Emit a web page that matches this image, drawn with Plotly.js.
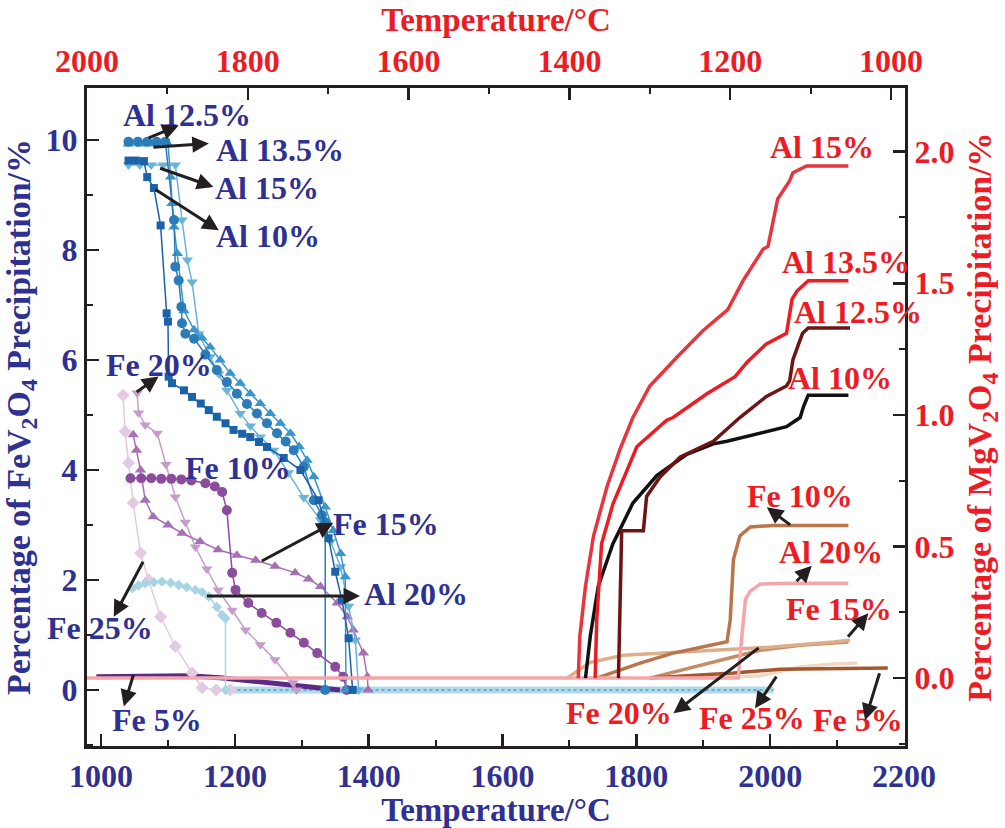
<!DOCTYPE html>
<html>
<head>
<meta charset="utf-8">
<script src="https://cdn.plot.ly/plotly-3.0.1.min.js"></script>
<style>html,body{margin:0;padding:0;background:#fff;}#chart{width:1005px;height:828px;}</style>
</head>
<body>
<div id="chart"></div>
<script>
// ---------- Tick values / labels ----------
const bottomTickVals = [1000, 1200, 1400, 1600, 1800, 2000, 2200];
const bottomTickText = ['1000', '1200', '1400', '1600', '1800', '2000', '2200'];
const topTickVals = [2000, 1800, 1600, 1400, 1200, 1000];
const topTickText = ['2000', '1800', '1600', '1400', '1200', '1000'];
const leftTickVals = [0, 2, 4, 6, 8, 10];
const leftTickText = ['0', '2', '4', '6', '8', '10'];
const rightTickVals = [0, 0.5, 1.0, 1.5, 2.0];
const rightTickText = ['0.0', '0.5', '1.0', '1.5', '2.0'];

// ---------- FeV2O4 precipitation (bottom temperature axis, left axis) ----------
const feAl10T = [1041, 1052, 1064, 1069, 1079, 1089, 1098, 1100, 1101, 1106, 1124, 1136, 1149, 1161, 1173, 1186, 1198, 1211, 1223, 1236, 1248, 1273, 1298, 1325, 1340, 1350, 1360, 1370, 1376];
const feAl10V = [9.63, 9.63, 9.62, 9.33, 9.13, 8.45, 6.85, 6.7, 5.7, 5.58, 5.45, 5.33, 5.21, 5.09, 4.97, 4.85, 4.73, 4.66, 4.6, 4.51, 4.42, 4.22, 4.0, 3.45, 2.76, 2.15, 1.64, 0.94, 0];
const feAl125T = [1041, 1055, 1069, 1083, 1096, 1109, 1111, 1116, 1120, 1121, 1126, 1139, 1156, 1173, 1188, 1203, 1218, 1233, 1248, 1263, 1276, 1288, 1303, 1318, 1330, 1335, 1335];
const feAl125V = [9.97, 9.97, 9.97, 9.97, 9.97, 8.55, 7.7, 7.45, 6.97, 6.67, 6.48, 6.39, 6.1, 5.82, 5.6, 5.39, 5.2, 5.03, 4.85, 4.67, 4.52, 4.36, 4.06, 3.45, 3.18, 3.05, 0];
const feAl135T = [1041, 1060, 1080, 1100, 1104, 1106, 1109, 1114, 1124, 1139, 1151, 1163, 1178, 1193, 1208, 1223, 1238, 1253, 1268, 1283, 1296, 1308, 1318, 1335, 1347, 1358, 1365, 1366];
const feAl135V = [9.93, 9.93, 9.93, 9.93, 9.33, 8.85, 8.42, 7.94, 6.9, 6.55, 6.4, 6.24, 6.0, 5.76, 5.58, 5.39, 5.21, 5.03, 4.85, 4.67, 4.43, 4.18, 3.88, 3.33, 2.9, 2.48, 2.06, 0];
const feAl15T = [1041, 1058, 1075, 1093, 1111, 1121, 1129, 1136, 1146, 1163, 1176, 1188, 1208, 1223, 1238, 1258, 1280, 1303, 1328, 1343, 1358, 1370, 1380, 1385];
const feAl15V = [9.55, 9.55, 9.55, 9.55, 9.55, 8.55, 7.82, 7.42, 6.48, 6.06, 5.75, 5.45, 5.03, 4.8, 4.6, 4.36, 3.95, 3.5, 3.09, 2.7, 2.24, 1.52, 0.91, 0];
const feAl20T = [1047, 1056, 1066, 1079, 1091, 1104, 1116, 1128, 1141, 1151, 1161, 1173, 1181, 1186, 1186];
const feAl20V = [1.85, 1.9, 1.94, 1.96, 1.97, 1.95, 1.91, 1.87, 1.82, 1.78, 1.7, 1.51, 1.36, 1.3, 0];
const feZeroT = [1186, 2005];
const feZeroV = [0, 0];
const feFe5T = [993, 1108, 1130, 1178, 1223, 1253, 1298, 1357];
const feFe5V = [0.24, 0.27, 0.26, 0.22, 0.16, 0.13, 0.07, 0];
const feFe10T = [1044, 1060, 1075, 1090, 1105, 1120, 1135, 1156, 1170, 1181, 1188, 1196, 1201, 1220, 1240, 1262, 1283, 1303, 1323, 1350, 1362, 1367];
const feFe10V = [3.85, 3.85, 3.85, 3.84, 3.84, 3.83, 3.81, 3.76, 3.7, 3.6, 3.27, 2.13, 1.82, 1.58, 1.4, 1.22, 1.04, 0.86, 0.67, 0.42, 0.24, 0];
const feFe15T = [1048, 1053, 1059, 1066, 1078, 1100, 1121, 1148, 1175, 1203, 1231, 1260, 1290, 1310, 1328, 1353, 1368, 1377, 1392, 1398, 1399];
const feFe15V = [4.64, 4.36, 4.0, 3.45, 3.15, 3.0, 2.85, 2.7, 2.55, 2.45, 2.36, 2.25, 2.13, 2.02, 1.88, 1.58, 1.33, 1.09, 0.67, 0.24, 0];
const feFe20T = [1054, 1056, 1066, 1084, 1097, 1111, 1126, 1141, 1158, 1175, 1196, 1216, 1238, 1260, 1287, 1292];
const feFe20V = [5.4, 5.04, 4.82, 4.67, 4.1, 3.51, 3.05, 2.6, 2.2, 1.82, 1.45, 1.09, 0.82, 0.55, 0.13, 0];
const feFe25T = [1033, 1036, 1041, 1048, 1059, 1071, 1089, 1111, 1136, 1151, 1172, 1193];
const feFe25V = [5.36, 4.7, 4.13, 3.4, 2.49, 2.0, 1.33, 0.79, 0.31, 0.04, 0, 0];

// ---------- MgV2O4 precipitation (top temperature axis, right axis) ----------
const mgAl10T = [1380, 1374, 1364, 1346, 1321, 1291, 1254, 1221, 1204, 1130, 1113, 1109, 1103, 1053];
const mgAl10V = [0, 0.16, 0.35, 0.51, 0.665, 0.77, 0.85, 0.89, 0.90, 0.955, 0.99, 1.03, 1.075, 1.075];
const mgAl125T = [1339, 1335, 1308, 1304, 1287, 1262, 1221, 1188, 1155, 1130, 1126, 1122, 1116, 1110, 1103, 1051];
const mgAl125V = [0, 0.56, 0.56, 0.69, 0.765, 0.84, 0.90, 0.99, 1.07, 1.11, 1.13, 1.21, 1.26, 1.31, 1.33, 1.33];
const mgAl135T = [1368, 1366, 1360, 1346, 1316, 1279, 1271, 1229, 1194, 1179, 1155, 1136, 1130, 1123, 1117, 1103, 1053];
const mgAl135V = [0, 0.22, 0.51, 0.66, 0.88, 0.98, 0.99, 1.08, 1.145, 1.20, 1.27, 1.30, 1.31, 1.44, 1.47, 1.51, 1.51];
const mgAl15T = [1389, 1387, 1380, 1370, 1353, 1337, 1321, 1300, 1266, 1234, 1203, 1184, 1159, 1153, 1141, 1126, 1122, 1105, 1053];
const mgAl15V = [0, 0.16, 0.35, 0.54, 0.73, 0.87, 0.99, 1.11, 1.22, 1.32, 1.40, 1.51, 1.63, 1.64, 1.82, 1.89, 1.92, 1.946, 1.946];
const mgAl20T = [2000, 1190, 1186, 1181, 1175, 1163, 1126, 1053];
const mgAl20V = [0, 0, 0.144, 0.30, 0.33, 0.357, 0.36, 0.36];
const mgFe5T = [1300, 1196, 1138, 1004];
const mgFe5V = [0, 0.019, 0.034, 0.038];
const mgFe10T = [1366, 1312, 1271, 1221, 1204, 1200, 1196, 1188, 1175, 1147, 1053];
const mgFe10V = [0, 0.057, 0.095, 0.125, 0.138, 0.22, 0.45, 0.54, 0.574, 0.58, 0.58];
const mgFe15T = [1403, 1374, 1333, 1229, 1147, 1072, 1051];
const mgFe15V = [0, 0.06, 0.087, 0.106, 0.118, 0.137, 0.144];
const mgFe20T = [1300, 1250, 1212, 1163, 1113, 1053];
const mgFe20V = [0, 0.038, 0.068, 0.106, 0.125, 0.137];
const mgFe25T = [1250, 1163, 1142, 1113, 1076, 1042];
const mgFe25V = [0, 0.008, 0.023, 0.042, 0.053, 0.057];

// ---------- styles ----------
const BLUE_TXT = '#2e3192';
const RED_TXT = '#ed1c24';
const INK = '#231f20';
const FONT = 'Liberation Serif, Times New Roman, serif';

function feTrace(x, y, color, symbol, size, width) {
  return {x: x, y: y, xaxis: 'x', yaxis: 'y', type: 'scatter',
    mode: symbol ? 'lines+markers' : 'lines',
    line: {color: color, width: width},
    marker: {symbol: symbol || 'circle', size: size, color: color},
    hoverinfo: 'skip'};
}
function mgTrace(x, y, color, width) {
  return {x: x, y: y, xaxis: 'x2', yaxis: 'y2', type: 'scatter', mode: 'lines',
    line: {color: color, width: width || 3.5, shape: 'linear'}, hoverinfo: 'skip'};
}

const traces = [
  feTrace(feZeroT, feZeroV, '#b3dae7', null, 0, 7),
  {x: feZeroT, y: feZeroV, xaxis: 'x', yaxis: 'y', type: 'scatter', mode: 'lines',
   line: {color: '#6aa8d6', width: 2, dash: 'dot'}, hoverinfo: 'skip'},
  feTrace(feFe5T, feFe5V, '#5c2a84', null, 0, 5),
  feTrace(feFe25T, feFe25V, '#e2cbe2', 'diamond', 10, 1.5),
  feTrace(feFe20T, feFe20V, '#c69dca', 'triangle-down', 10, 1.5),
  feTrace(feFe15T, feFe15V, '#a670b3', 'triangle-up', 10, 1.5),
  feTrace(feFe10T, feFe10V, '#8b4c9e', 'circle', 10, 1.5),
  feTrace(feAl20T, feAl20V, '#a9d5e3', 'diamond', 8, 1.5),
  feTrace(feAl15T, feAl15V, '#6ab4d8', 'triangle-down', 10, 1.5),
  feTrace(feAl135T, feAl135V, '#3a96c9', 'triangle-up', 10, 1.5),
  feTrace(feAl125T, feAl125V, '#2a7db8', 'circle', 10, 1.5),
  feTrace(feAl10T, feAl10V, '#1b62a8', 'square', 8, 1.5),
  mgTrace(mgFe25T, mgFe25V, '#f0d6c4'),
  mgTrace(mgFe20T, mgFe20V, '#c68c64'),
  mgTrace(mgFe15T, mgFe15V, '#dcae8c'),
  mgTrace(mgFe5T, mgFe5V, '#a5562e'),
  mgTrace(mgFe10T, mgFe10V, '#b8764a'),
  mgTrace(mgAl20T, mgAl20V, '#f4a6ac'),
  mgTrace(mgAl10T, mgAl10V, '#111111'),
  mgTrace(mgAl125T, mgAl125V, '#6e1414'),
  mgTrace(mgAl135T, mgAl135V, '#ec1c24'),
  mgTrace(mgAl15T, mgAl15V, '#e8343f')
];

// ---------- labels ----------
function label(text, x, y, color, xr, yr) {
  return {text: text, x: x, y: y, xref: xr, yref: yr, showarrow: false,
    font: {family: FONT, size: 32, color: color, weight: 'bold'}};
}
function arrow(hx, hy, tx, ty, xr, yr) {
  return {text: '', x: hx, y: hy, ax: tx, ay: ty, xref: xr, yref: yr, axref: xr, ayref: yr,
    showarrow: true, arrowhead: 2, arrowsize: 1.1, arrowwidth: 3, arrowcolor: INK};
}
const annotations = [
  label('Al 12.5%', 1128, 10.45, BLUE_TXT, 'x', 'y'),
  arrow(1116, 10.27, 1069, 10.03, 'x', 'y'),
  label('Al 13.5%', 1268, 9.82, BLUE_TXT, 'x', 'y'),
  arrow(1161, 9.94, 1076, 9.87, 'x', 'y'),
  label('Al 15%', 1248, 9.13, BLUE_TXT, 'x', 'y'),
  arrow(1168, 9.15, 1086, 9.5, 'x', 'y'),
  label('Al 10%', 1250, 8.25, BLUE_TXT, 'x', 'y'),
  arrow(1176, 8.36, 1079, 9.12, 'x', 'y'),
  label('Fe 20%', 1086, 5.91, BLUE_TXT, 'x', 'y'),
  arrow(1086, 5.70, 1051, 5.4, 'x', 'y'),
  label('Fe 10%', 1204, 4.04, BLUE_TXT, 'x', 'y'),
  label('Fe 15%', 1426, 3.02, BLUE_TXT, 'x', 'y'),
  arrow(1347, 3.04, 1238, 2.33, 'x', 'y'),
  label('Al 20%', 1471, 1.75, BLUE_TXT, 'x', 'y'),
  arrow(1387, 1.71, 1156, 1.71, 'x', 'y'),
  label('Fe 25%', 998, 1.13, BLUE_TXT, 'x', 'y'),
  arrow(1019, 1.33, 1064, 2.36, 'x', 'y'),
  label('Fe 5%', 1083, -0.545, BLUE_TXT, 'x', 'y'),
  arrow(1034, -0.30, 1049, 0.30, 'x', 'y'),

  label('Al 15%', 1086, 2.018, RED_TXT, 'x2', 'y2'),
  label('Al 13.5%', 1056, 1.581, RED_TXT, 'x2', 'y2'),
  label('Al 12.5%', 1041, 1.391, RED_TXT, 'x2', 'y2'),
  label('Al 10%', 1063, 1.14, RED_TXT, 'x2', 'y2'),
  label('Fe 10%', 1113, 0.692, RED_TXT, 'x2', 'y2'),
  arrow(1154.5, 0.649, 1123.5, 0.578, 'x2', 'y2'),
  label('Al 20%', 1074.5, 0.479, RED_TXT, 'x2', 'y2'),
  arrow(1098.6, 0.427, 1119.3, 0.362, 'x2', 'y2'),
  label('Fe 15%', 1064.6, 0.262, RED_TXT, 'x2', 'y2'),
  arrow(1028.2, 0.246, 1055.1, 0.151, 'x2', 'y2'),
  label('Fe 20%', 1338, -0.133, RED_TXT, 'x2', 'y2'),
  arrow(1270.6, -0.134, 1162.8, 0.119, 'x2', 'y2'),
  label('Fe 25%', 1172.8, -0.152, RED_TXT, 'x2', 'y2'),
  arrow(1169.1, -0.115, 1141.3, 0.011, 'x2', 'y2'),
  label('Fe 5%', 1041, -0.16, RED_TXT, 'x2', 'y2'),
  arrow(1032.3, -0.16, 1013.7, 0.024, 'x2', 'y2')
];

function axisBase(color) {
  return {showgrid: false, zeroline: false, showline: true, linewidth: 3, linecolor: INK,
    ticks: 'inside', ticklen: 12, tickwidth: 2.5, tickcolor: INK, tickmode: 'array',
    tickfont: {family: FONT, size: 32, color: color, weight: 'bold'}};
}

const layout = {
  width: 1005, height: 828,
  margin: {l: 87, r: 100, t: 88, b: 82, pad: 0},
  paper_bgcolor: '#ffffff', plot_bgcolor: '#ffffff',
  showlegend: false,
  font: {family: FONT},
  xaxis: Object.assign(axisBase(BLUE_TXT), {
    range: [979, 2201.5], tickvals: bottomTickVals, ticktext: bottomTickText,
    minor: {ticks: 'inside', ticklen: 6, tickwidth: 2, tickcolor: INK, tick0: 1000, dtick: 100},
    title: {text: 'Temperature/°C', font: {family: FONT, size: 33, color: BLUE_TXT, weight: 'bold'}, standoff: 2}
  }),
  xaxis2: Object.assign(axisBase(RED_TXT), {
    overlaying: 'x', side: 'top', anchor: 'y',
    range: [2000, 982.6], tickvals: topTickVals, ticktext: topTickText,
    minor: {ticks: 'inside', ticklen: 6, tickwidth: 2, tickcolor: INK, tick0: 1000, dtick: 100},
    title: {text: 'Temperature/°C', font: {family: FONT, size: 33, color: RED_TXT, weight: 'bold'}, standoff: 2}
  }),
  yaxis: Object.assign(axisBase(BLUE_TXT), {
    range: [-1.02, 10.95], tickvals: leftTickVals, ticktext: leftTickText,
    minor: {ticks: 'inside', ticklen: 6, tickwidth: 2, tickcolor: INK, tick0: 0, dtick: 1},
    title: {text: 'Percentage of FeV<sub>2</sub>O<sub>4</sub> Precipitation/%', font: {family: FONT, size: 34, color: BLUE_TXT, weight: 'bold'}, standoff: 6}
  }),
  yaxis2: Object.assign(axisBase(RED_TXT), {
    overlaying: 'y', side: 'right', anchor: 'x',
    range: [-0.258, 2.242], tickvals: rightTickVals, ticktext: rightTickText,
    minor: {ticks: 'inside', ticklen: 6, tickwidth: 2, tickcolor: INK, tick0: 0, dtick: 0.25},
    title: {text: 'Percentage of MgV<sub>2</sub>O<sub>4</sub> Precipitation/%', font: {family: FONT, size: 34, color: RED_TXT, weight: 'bold'}, standoff: 14}
  }),
  annotations: annotations
};

Plotly.newPlot('chart', traces, layout, {displayModeBar: false, staticPlot: true});
</script>
</body>
</html>
